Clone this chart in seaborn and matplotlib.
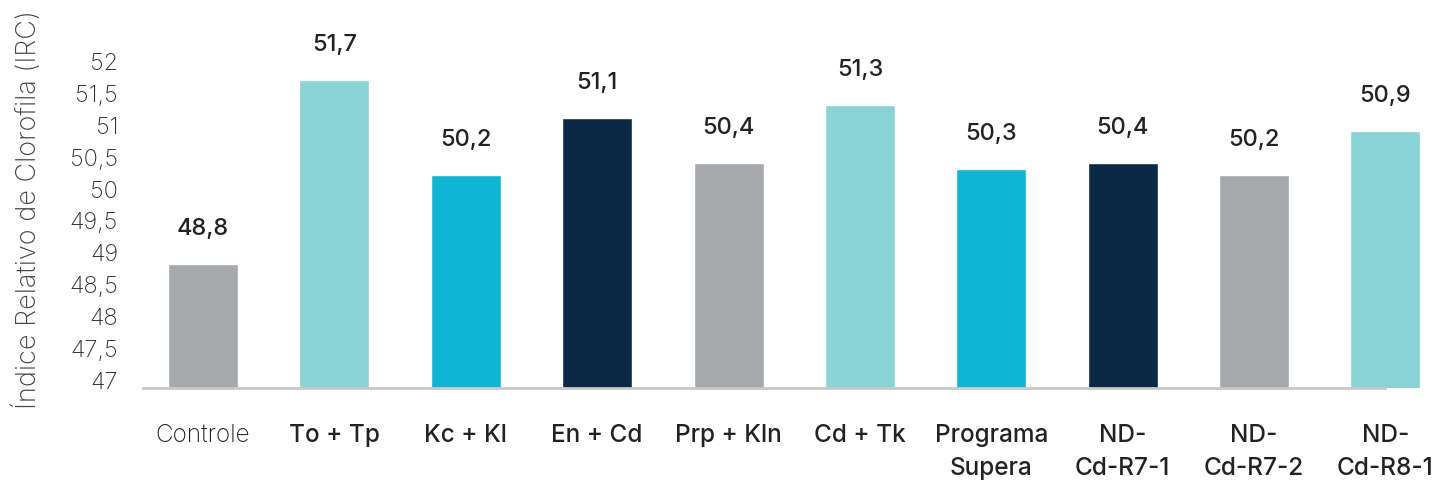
import matplotlib
matplotlib.use("Agg")
import matplotlib.pyplot as plt
import seaborn as sns

categories = ["Controle", "To + Tp", "Kc + Kl", "En + Cd", "Prp + Kln", "Cd + Tk",
              "Programa\nSupera", "ND-\nCd-R7-1", "ND-\nCd-R7-2", "ND-\nCd-R8-1"]
values = [48.8, 51.7, 50.2, 51.1, 50.4, 51.3, 50.3, 50.4, 50.2, 50.9]
bar_colors = ["#A7A8AC", "#8AD2D5", "#10B5D4", "#0A2846", "#A7A8AC",
              "#8AD2D5", "#10B5D4", "#0A2846", "#A7A8AC", "#8AD2D5"]
y_ticks = [47, 47.5, 48, 48.5, 49, 49.5, 50, 50.5, 51, 51.5, 52]
y_label = "Índice Relativo de Clorofila (IRC)"

sns.set_theme(style="white")
plt.rcParams["font.family"] = ["Inter", "DejaVu Sans"]

fig = plt.figure(figsize=(14.38, 4.85), dpi=100)
ax = fig.add_axes([143 / 1438, 96 / 485, 1 - 143 / 1438, 389 / 485])

sns.barplot(x=categories, y=values, hue=categories, palette=bar_colors,
            width=0.533, saturation=1, legend=False, ax=ax)

ax.set_xlim(-0.457, 9.40)
ax.set_ylim(46.86, 52.97)

ax.set_yticks(y_ticks)
ax.set_yticklabels([f"{t:g}".replace(".", ",") for t in y_ticks],
                   fontsize=17, fontweight="light", color="#333333")
ax.tick_params(axis="y", length=0, pad=18)
ax.tick_params(axis="x", length=0, pad=25)
ax.set_xticks(range(len(categories)))
ax.set_xticklabels(categories, fontsize=17.5, fontweight="medium",
                   color="#222222", linespacing=1.55)
ax.get_xticklabels()[0].set_fontweight("light")

ax.set_xlabel("")
ax.set_ylabel(y_label, fontsize=19.5, fontweight="light", color="#444444")
ax.yaxis.label.set_verticalalignment("center")
ax.yaxis.set_label_coords(-0.089, 0.46)

for side in ["top", "right", "left"]:
    ax.spines[side].set_visible(False)
ax.spines["bottom"].set_color("#C8C8C8")
ax.spines["bottom"].set_linewidth(2)
ax.spines["bottom"].set_bounds(-0.457, 8.995)

for i, v in enumerate(values):
    ax.annotate(f"{v:.1f}".replace(".", ","), (i, v), xytext=(0, 18),
                textcoords="offset points", ha="center", va="bottom",
                fontsize=17, fontweight="medium", color="#222222")

fig.savefig("out.png", dpi=100)
